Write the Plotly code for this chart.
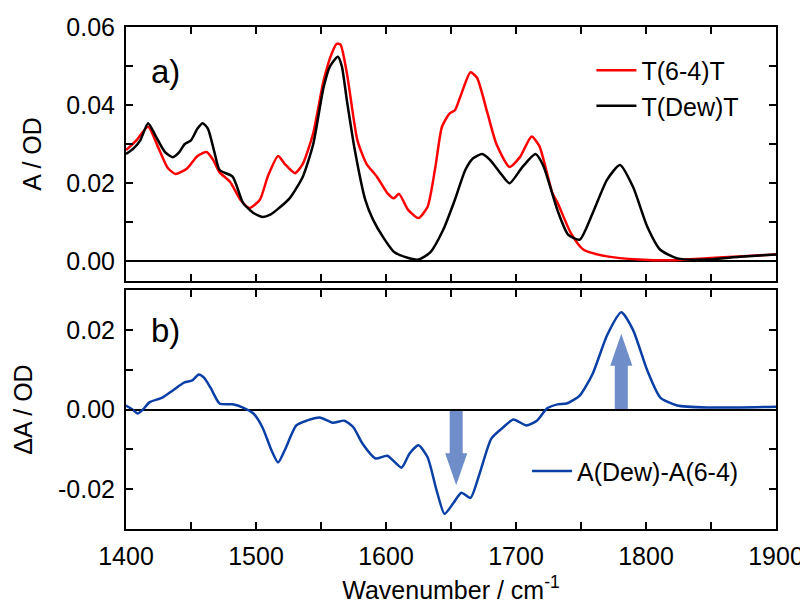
import plotly.graph_objects as go
from plotly.subplots import make_subplots

# T(6-4)T absorbance
wn_64 = [1400, 1408, 1417, 1425, 1432, 1438, 1447, 1455, 1462, 1467, 1472, 1480, 1488, 1495,
         1503, 1509, 1517, 1522, 1530, 1536, 1544, 1552, 1558, 1562, 1565, 1570, 1578, 1585,
         1593, 1601, 1606, 1610, 1617, 1625, 1632, 1638, 1643, 1649, 1653, 1657, 1665, 1670,
         1678, 1685, 1695, 1703, 1712, 1718, 1728, 1732, 1742, 1752, 1770, 1795, 1821, 1847,
         1872, 1900]
a_64 = [0.0285, 0.031, 0.0345, 0.029, 0.024, 0.0224, 0.0238, 0.027, 0.028, 0.026, 0.0228, 0.0204,
        0.0158, 0.0137, 0.0158, 0.0217, 0.027, 0.025, 0.0226, 0.025, 0.0328, 0.0463, 0.053,
        0.0557, 0.0555, 0.048, 0.031, 0.025, 0.0217, 0.0175, 0.0162, 0.0173, 0.0132, 0.0111,
        0.014, 0.0242, 0.0344, 0.0379, 0.0387, 0.042, 0.0484, 0.047, 0.038, 0.030, 0.0242,
        0.0267, 0.032, 0.0295, 0.0175, 0.015, 0.0074, 0.003, 0.0013, 0.0005, 0.0003, 0.0008,
        0.0013, 0.0018]

# T(Dew)T absorbance
wn_dew = [1400, 1406, 1411, 1417, 1423, 1430, 1436, 1441, 1445, 1450, 1455, 1459, 1463, 1468,
          1472, 1482, 1490, 1498, 1505, 1511, 1516, 1526, 1536, 1544, 1552, 1557, 1563, 1566,
          1570, 1576, 1584, 1590, 1598, 1606, 1616, 1625, 1634, 1644, 1653, 1661, 1667, 1674,
          1680, 1688, 1695, 1705, 1715, 1721, 1732, 1740, 1749, 1759, 1770, 1780, 1790, 1801,
          1811, 1824, 1847, 1872, 1900]
a_dew = [0.0275, 0.029, 0.031, 0.0354, 0.032, 0.028, 0.0267, 0.028, 0.030, 0.031, 0.034, 0.0354,
         0.034, 0.028, 0.0234, 0.0217, 0.015, 0.0124, 0.0114, 0.012, 0.0132, 0.0162, 0.0217,
         0.030, 0.0446, 0.050, 0.0524, 0.050, 0.041, 0.0285, 0.0158, 0.0107, 0.0061, 0.0025,
         0.001, 0.0005, 0.0023, 0.0081, 0.0158, 0.0234, 0.0264, 0.0275, 0.026, 0.0226, 0.020,
         0.0242, 0.0275, 0.0245, 0.013, 0.0069, 0.0056, 0.0124, 0.0209, 0.0247, 0.0191, 0.0089,
         0.003, 0.0008, 0.0005, 0.0012, 0.0018]

# difference spectrum A(Dew)-A(6-4)
wn_diff = [1400, 1405, 1409, 1413, 1418, 1428, 1436, 1445, 1451, 1456, 1460, 1465, 1472, 1482,
           1490, 1498, 1505, 1512, 1517, 1522, 1531, 1539, 1549, 1559, 1568, 1575, 1582, 1592,
           1601, 1612, 1618, 1625, 1632, 1639, 1645, 1652, 1658, 1665, 1672, 1681, 1690, 1698,
           1708, 1716, 1724, 1732, 1739, 1749, 1759, 1770, 1781, 1790, 1801, 1811, 1824, 1847,
           1900]
d_diff = [0.001, 0.0, -0.001, 0.0, 0.0018, 0.003, 0.0048, 0.0068, 0.0073, 0.0088, 0.008, 0.0055,
          0.0015, 0.0013, 0.0005, -0.001, -0.0045, -0.0103, -0.0133, -0.0103, -0.004, -0.0028,
          -0.002, -0.0033, -0.0028, -0.0045, -0.0086, -0.0123, -0.0116, -0.0146, -0.0111, -0.009,
          -0.012, -0.0204, -0.0262, -0.0234, -0.0209, -0.0222, -0.0161, -0.0073, -0.0045, -0.0025,
          -0.004, -0.0028, 0.0003, 0.0013, 0.0015, 0.0035, 0.009, 0.0186, 0.0244, 0.020, 0.0098,
          0.003, 0.001, 0.0005, 0.0007]

# arrows in panel b (position, tip value)
arrow_x = [1654, 1781]
arrow_tip = [-0.019, 0.019]

top_ticks = [0.0, 0.02, 0.04, 0.06]
top_text = ['0.00', '0.02', '0.04', '0.06']
bot_ticks = [-0.02, 0.0, 0.02]
bot_text = ['-0.02', '0.00', '0.02']

FONT = 'Liberation Sans, Arial, sans-serif'
FS = 25

fig = make_subplots(rows=2, cols=1, shared_xaxes=True)

fig.add_trace(go.Scatter(x=wn_64, y=a_64, mode='lines', name='T(6-4)T',
                         line=dict(color='#ff0000', width=2.5, shape='spline', smoothing=0.6),
                         legend='legend'), row=1, col=1)
fig.add_trace(go.Scatter(x=wn_dew, y=a_dew, mode='lines', name='T(Dew)T',
                         line=dict(color='#000000', width=2.5, shape='spline', smoothing=0.6),
                         legend='legend'), row=1, col=1)
fig.add_trace(go.Scatter(x=wn_diff, y=d_diff, mode='lines', name='A(Dew)-A(6-4)',
                         line=dict(color='#0a3fa6', width=2.5, shape='spline', smoothing=0.6),
                         legend='legend2'), row=2, col=1)

# fat arrows drawn as filled paths
shaft, head, head_len = 5, 8.5, 0.008
for xc, tip in zip(arrow_x, arrow_tip):
    sgn = 1 if tip > 0 else -1
    base = tip - sgn * head_len
    path = (f'M {xc - shaft} 0 L {xc - shaft} {base} L {xc - head} {base} L {xc} {tip} '
            f'L {xc + head} {base} L {xc + shaft} {base} L {xc + shaft} 0 Z')
    fig.add_shape(type='path', path=path, xref='x2', yref='y2',
                  fillcolor='#6f8dc9', line=dict(width=0), layer='below')

axis_common = dict(showline=True, linecolor='black', linewidth=2, mirror='allticks',
                   ticks='inside', ticklen=7, tickwidth=2, tickcolor='black',
                   showgrid=False, automargin=False, ticklabelstandoff=4,
                   tickfont=dict(size=FS, color='black'))

fig.update_xaxes(range=[1400, 1900], dtick=100, zeroline=False,
                 minor=dict(dtick=50, ticks='inside', ticklen=7, tickwidth=2, tickcolor='black'),
                 **axis_common)
fig.update_xaxes(showticklabels=False, row=1, col=1)
fig.update_xaxes(title=dict(text='Wavenumber / cm<sup>-1</sup>', font=dict(size=FS), standoff=12),
                 row=2, col=1)

fig.update_yaxes(zeroline=True, zerolinecolor='black', zerolinewidth=1.5,
                 minor=dict(dtick=0.01, ticks='inside', ticklen=7, tickwidth=2, tickcolor='black'),
                 **axis_common)
fig.update_yaxes(range=[-0.005, 0.06], tickvals=top_ticks, ticktext=top_text,
                 title=dict(text='A / OD', font=dict(size=FS), standoff=18), row=1, col=1)
fig.update_yaxes(range=[-0.03, 0.03], tickvals=bot_ticks, ticktext=bot_text,
                 title=dict(text='ΔA / OD', font=dict(size=FS), standoff=18), row=2, col=1)

# the page body adds an 8px offset, so the figure is 8px smaller than the window
fig.update_layout(
    width=800, height=597,
    margin=dict(l=118, r=32, t=19, b=76),
    plot_bgcolor='white', paper_bgcolor='white',
    font=dict(family=FONT, size=FS, color='black'),
    yaxis=dict(domain=[0.494, 1.0]),
    yaxis2=dict(domain=[0.0, 0.476]),
    legend=dict(x=0.716, y=0.959, xanchor='left', yanchor='top', bgcolor='rgba(0,0,0,0)',
                font=dict(size=FS), itemwidth=40, tracegroupgap=0),
    legend2=dict(x=0.617, y=0.115, xanchor='left', yanchor='middle', bgcolor='rgba(0,0,0,0)',
                 font=dict(size=FS), itemwidth=40),
    annotations=[
        dict(text='a)', x=0.035, y=0.911, xref='paper', yref='paper', showarrow=False,
             xanchor='left', yanchor='middle', font=dict(size=33)),
        dict(text='b)', x=0.035, y=0.396, xref='paper', yref='paper', showarrow=False,
             xanchor='left', yanchor='middle', font=dict(size=33)),
    ],
)

fig.write_html("out.html")
